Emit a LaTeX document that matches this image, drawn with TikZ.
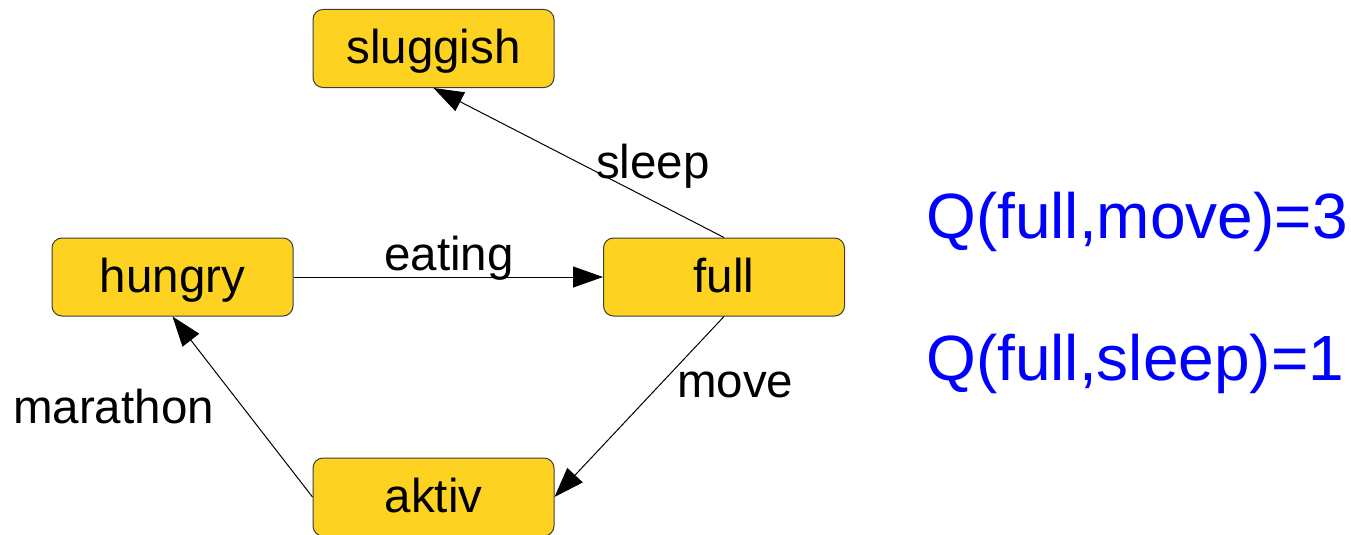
\documentclass[tikz,border=0pt]{standalone}
\usepackage{fontspec}
\setmainfont{Liberation Sans}
\usetikzlibrary{arrows.meta}
\definecolor{stateyellow}{RGB}{254,210,32}
\definecolor{stateborder}{RGB}{60,60,60}
\definecolor{qblue}{RGB}{0,0,255}
\tikzset{
  state/.style={draw=stateborder, line width=1pt, fill=stateyellow,
    rounded corners=10pt, minimum width=241pt, minimum height=78pt,
    inner sep=0pt, text height=30pt, text depth=0pt,
    font=\fontsize{47.5}{56}\selectfont},
  edgelabel/.style={anchor=base west, inner sep=0pt,
    font=\fontsize{47.5}{56}\selectfont},
  qvalue/.style={anchor=base west, inner sep=0pt, text=qblue,
    font=\fontsize{64}{76}\selectfont},
  transition/.style={draw=black, line width=1pt,
    -{Triangle[length=30pt,width=21pt]}}
}
\begin{document}
\begin{tikzpicture}[x=1pt,y=-1pt]
  \useasboundingbox (0,0) rectangle (1351,535);

  % states
  \node[state] (sluggish) at (433.5,48.5) {sluggish};
  \node[state] (hungry)   at (172.5,277)  {hungry};
  \node[state] (full)     at (724,277)    {full};
  \node[state] (aktiv)    at (433.5,497)  {aktiv};

  % transitions
  \draw[transition] (hungry.east) -- (full.west);
  \draw[transition] (full.north)  -- (sluggish.south);
  \draw[transition] (full.south)  -- (aktiv.east);
  \draw[transition] (aktiv.west)  -- (hungry.south);

  % transition labels
  \node[edgelabel] (leating)   at (384,270) {eating};
  \node[edgelabel] (lsleep)    at (596,178) {sleep};
  \node[edgelabel] (lmove)     at (677,397) {move};
  \node[edgelabel] (lmarathon) at (13,423)  {marathon};

  % action values
  \node[qvalue] (qmove)  at (926,238) {Q(full,move)=3};
  \node[qvalue] (qsleep) at (926,380) {Q(full,sleep)=1};
\end{tikzpicture}
\end{document}
